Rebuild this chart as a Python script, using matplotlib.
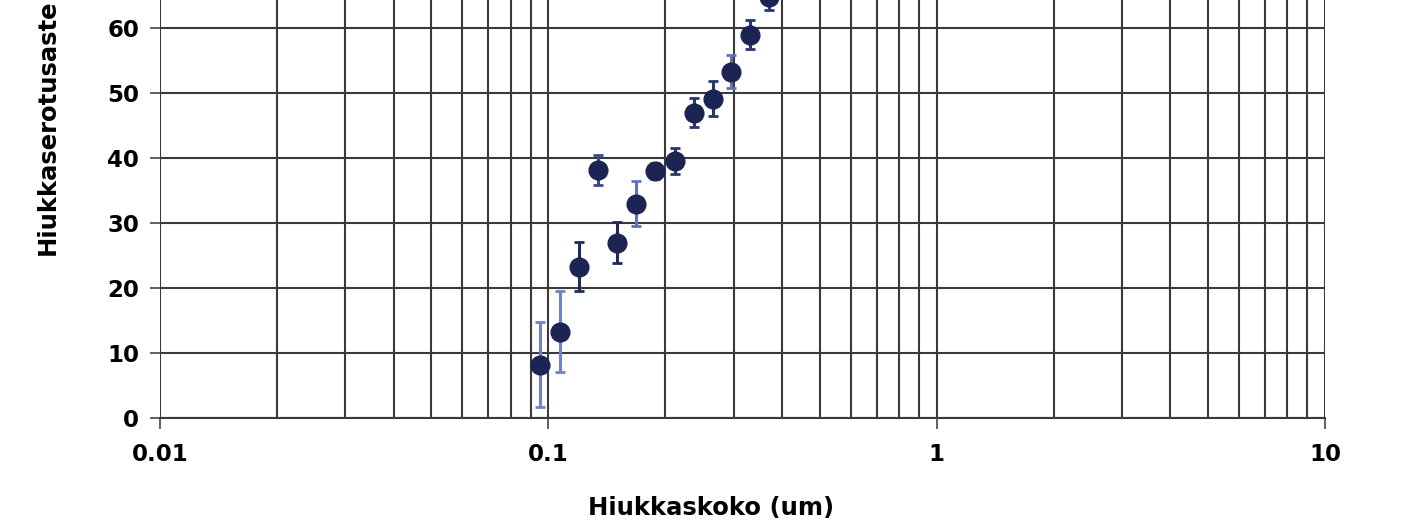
import matplotlib
matplotlib.use("Agg")
import matplotlib.pyplot as plt
from matplotlib.ticker import LogLocator, FixedLocator, NullFormatter

# particle size (um), separation efficiency (%), error (+/-)
size_um = [0.095, 0.107, 0.120, 0.134, 0.150, 0.1685, 0.188, 0.212, 0.237, 0.2655, 0.296, 0.331, 0.370]
efficiency = [8.2, 13.3, 23.3, 38.2, 27.0, 33.0, 38.0, 39.6, 47.0, 49.1, 53.3, 59.0, 64.7]
err = [6.5, 6.2, 3.8, 2.3, 3.1, 3.4, 1.3, 2.0, 2.2, 2.7, 2.5, 2.2, 2.0]
bar_colors = ["#6f82c6", "#6f82c6", "#1f2a5c", "#3a4a8a", "#1f2a5c", "#5f73bc",
              "#3a4a8a", "#2a376e", "#2a376e", "#2a376e", "#5f73bc", "#2a376e", "#2a376e"]

x_ticks = [0.01, 0.1, 1, 10]
x_ticklabels = ["0.01", "0.1", "1", "10"]
y_ticks = [0, 10, 20, 30, 40, 50, 60]

plt.rcParams["font.family"] = ["DejaVu Sans"]
plt.rcParams["font.weight"] = "bold"

fig = plt.figure(figsize=(14.14, 5.2), dpi=100)
# the picture is cropped: the plot area continues above the top edge
ax = fig.add_axes([160 / 1414, 102 / 520, 1165 / 1414, 418 / 520])

for xi, yi, ei, c in zip(size_um, efficiency, err, bar_colors):
    ax.errorbar(xi, yi, yerr=ei, fmt="none", ecolor=c, elinewidth=2.2,
                capsize=3.8, capthick=2.0, zorder=3, clip_on=False)
ax.plot(size_um, efficiency, "o", color="#1b2452", markersize=13.5,
        markeredgecolor="#1b2452", zorder=4, clip_on=False)

ax.set_xscale("log")
ax.set_xlim(0.01, 10)
ax.set_ylim(0, 418 / 6.5)

ax.xaxis.set_major_locator(FixedLocator(x_ticks))
ax.set_xticklabels(x_ticklabels)
ax.xaxis.set_minor_locator(LogLocator(base=10, subs=range(2, 10)))
ax.xaxis.set_minor_formatter(NullFormatter())
ax.yaxis.set_major_locator(FixedLocator(y_ticks))

ax.grid(True, which="major", color="#3a3a3a", linewidth=1.5)
ax.grid(True, which="minor", axis="x", color="#3a3a3a", linewidth=1.5)
ax.set_axisbelow(True)

for s in ["top", "left", "right"]:
    ax.spines[s].set_visible(False)
ax.spines["bottom"].set_color("#3a3a3a")
ax.spines["bottom"].set_linewidth(1.5)

ax.tick_params(axis="x", which="major", length=8, width=1.3, color="#555555",
               labelsize=16.5, pad=10)
ax.tick_params(axis="x", which="minor", length=0)
ax.tick_params(axis="y", which="major", length=7, width=1.3, color="#555555",
               labelsize=16.5, pad=8)
for lbl in ax.get_xticklabels() + ax.get_yticklabels():
    lbl.set_fontweight("bold")

fig.text(48 / 1414, (520 - 255) / 520, "Hiukkaserotusaste", rotation=90,
         ha="center", va="bottom", fontsize=17.5, fontweight="bold")
fig.text(711 / 1414, (520 - 496) / 520, "Hiukkaskoko (um)", ha="center",
         va="top", fontsize=17.5, fontweight="bold")

fig.savefig("out.png", dpi=100)
